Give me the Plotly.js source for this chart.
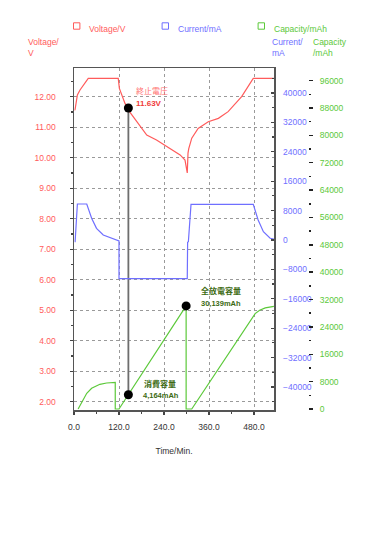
<!DOCTYPE html>
<html>
<head>
<meta charset="utf-8">
<script src="https://cdn.plot.ly/plotly-3.0.1.min.js"></script>
<style>html,body{margin:0;padding:0;background:#fff;}#chart{width:371px;height:536px;}</style>
</head>
<body>
<div id="chart"></div>
<script>
// ---- data ----
const timeV   = [2, 3, 9, 16, 38, 118, 121, 124, 127, 136, 145, 158, 176, 194, 220, 256, 283, 296, 302, 304, 306, 314, 331, 358, 385, 411, 447, 478, 533];
const voltage = [11.55, 11.59, 12.06, 12.22, 12.6, 12.6, 12.27, 12.16, 12.06, 11.78, 11.56, 11.34, 11.02, 10.74, 10.58, 10.31, 10.09, 9.92, 9.5, 10.15, 10.3, 10.64, 10.96, 11.18, 11.29, 11.51, 12.0, 12.6, 12.6];

const timeI   = [2, 3, 9, 34, 47, 60, 78, 105, 120, 120, 302, 303, 305, 312, 478, 491, 505, 523, 533];
const current = [-460, -460, 9800, 9800, 5900, 3180, 1360, 190, -270, -10500, -10500, -600, -460, 9700, 9700, 5440, 2260, 460, 270];

const timeC    = [11, 34, 47, 69, 87, 110, 110, 120, 299, 299, 314, 483, 495, 510, 533];
const capacity = [0, 4590, 6050, 7220, 7600, 7800, 0, 0, 30139, 0, 0, 27900, 28900, 29550, 30000];

// annotated points
const endTime = [145];
const endVoltage = [11.63];
const capTime = [145, 299];
const capValue = [4164, 30139];
const capLabels = ['消費容量', '全放電容量'];
const capValueLabels = ['4,164mAh', '30,139mAh'];

const xTickVals = [0, 120, 240, 360, 480];

// ---- axes ranges ----
const xRange = [0, 533.3];
const vRange = [1.73, 12.94];
const iRange = [-46260, 46800];
const cRange = [-290, 99700];

const RED = '#ff5b5b', BLUE = '#6f6fff', GREEN = '#5cc93a', DKGREEN = '#3c6a12';
const FONT = 'Liberation Sans, Arial, sans-serif';

// capacity value expressed on the voltage axis (for the connector line)
function capToV(c) { return vRange[0] + (c - cRange[0]) / (cRange[1] - cRange[0]) * (vRange[1] - vRange[0]); }

const traces = [
  {x: timeV, y: voltage, type: 'scatter', mode: 'lines', line: {color: RED, width: 1.2}, yaxis: 'y', showlegend: false},
  {x: timeI, y: current, type: 'scatter', mode: 'lines', line: {color: BLUE, width: 1.2}, yaxis: 'y2', showlegend: false},
  {x: timeC, y: capacity, type: 'scatter', mode: 'lines', line: {color: GREEN, width: 1.2}, yaxis: 'y3', showlegend: false},
  {x: [endTime[0], capTime[0]], y: [endVoltage[0], capToV(capValue[0])], type: 'scatter', mode: 'lines', line: {color: '#6e6e6e', width: 1.8}, yaxis: 'y', showlegend: false},
  {x: endTime, y: endVoltage, type: 'scatter', mode: 'markers', marker: {color: '#000', size: 9}, yaxis: 'y', showlegend: false},
  {x: capTime, y: capValue, type: 'scatter', mode: 'markers', marker: {color: '#000', size: 9}, yaxis: 'y3', showlegend: false}
];

// pixel -> paper helpers (paper: x 74..351, y 68..410)
const L = 74, R = 20, T = 68, B = 126, W = 371, H = 536;
const PW = W - L - R, PH = H - T - B;
const px = v => (v - L) / PW;
const py = v => (H - B - v) / PH;

function ann(text, x, y, color, opts) {
  return Object.assign({text: text, xref: 'paper', yref: 'paper', x: px(x), y: py(y), xanchor: 'left', yanchor: 'middle',
    showarrow: false, font: {family: FONT, size: 8.5, color: color}, align: 'left'}, opts || {});
}

const annotations = [
  ann('Voltage/V', 86.5, 29, RED),
  ann('Current/mA', 175.5, 29, BLUE),
  ann('Capacity/mAh', 271.5, 29, GREEN),
  ann('Voltage/<br>V', 26, 47.5, RED),
  ann('Current/<br>mA', 270, 47.5, BLUE),
  ann('Capacity<br>/mAh', 311, 47.5, GREEN),
  ann('終止電圧', 133.5, 90, '#ff7272', {font: {family: 'Noto Sans CJK JP, sans-serif', size: 8, color: '#ff7272'}}),
  ann('<b>' + endVoltage[0].toFixed(2) + 'V</b>', 133.5, 103.5, '#f03a3a', {font: {family: FONT, size: 8, color: '#f03a3a'}}),
  ann('<b>' + capLabels[1] + '</b>', 198.5, 290.5, DKGREEN, {font: {family: 'Noto Sans CJK JP, sans-serif', size: 8, color: DKGREEN}}),
  ann('<b>' + capValueLabels[1] + '</b>', 198.5, 303.5, DKGREEN, {font: {family: FONT, size: 7.5, color: DKGREEN}}),
  ann('<b>' + capLabels[0] + '</b>', 141.5, 383, DKGREEN, {font: {family: 'Noto Sans CJK JP, sans-serif', size: 8, color: DKGREEN}}),
  ann('<b>' + capValueLabels[0] + '</b>', 141, 395.5, DKGREEN, {font: {family: FONT, size: 7.5, color: DKGREEN}})
];

function sq(cx, cy, color) {
  return {type: 'rect', xref: 'paper', yref: 'paper', x0: px(cx - 3.2), x1: px(cx + 3.2), y0: py(cy + 3.2), y1: py(cy - 3.2),
    line: {color: color, width: 1}, fillcolor: 'rgba(0,0,0,0)'};
}
const shapes = [sq(76.7, 26, RED), sq(165.3, 26, BLUE), sq(261.3, 26, GREEN)];

const layout = {
  width: W, height: H,
  margin: {l: L, r: R, t: T, b: B, pad: 0},
  paper_bgcolor: '#fff', plot_bgcolor: '#fff',
  font: {family: FONT, size: 8.5, color: '#333'},
  showlegend: false,
  xaxis: {
    domain: [0, 200 / PW], range: xRange, tickvals: xTickVals, ticktext: xTickVals.map(v => v.toFixed(1)),
    showgrid: true, gridcolor: '#9a9a9a', griddash: 'dot', gridwidth: 1,
    showline: true, linecolor: '#555', linewidth: 1.5, mirror: true,
    ticks: 'outside', ticklen: 3, tickcolor: '#444', tickwidth: 1.2,
    minor: {dtick: 60, tick0: 0, ticks: 'outside', ticklen: 2, tickcolor: '#444', showgrid: false},
    zeroline: false, tickfont: {size: 8.5, color: '#333'}, ticklabelstandoff: 5,
    title: {text: 'Time/Min.', font: {size: 8.5, color: '#333'}, standoff: 17}
  },
  yaxis: {
    range: vRange, dtick: 1, tick0: 0, tickformat: '.2f',
    showgrid: true, gridcolor: '#9a9a9a', griddash: 'dot', gridwidth: 1,
    showline: true, linecolor: '#555', linewidth: 1.5, mirror: true,
    ticks: 'outside', ticklen: 3, tickcolor: '#444', tickwidth: 1.2,
    minor: {dtick: 0.5, tick0: 0, ticks: 'outside', ticklen: 2, tickcolor: '#444', showgrid: false},
    zeroline: false, tickfont: {size: 8.5, color: RED}, ticklabelstandoff: 12
  },
  yaxis2: {
    overlaying: 'y', side: 'right', anchor: 'x', range: iRange, dtick: 8000, tick0: 0, tickformat: 'd',
    showgrid: false, showline: false, zeroline: false,
    ticks: 'inside', ticklen: 3, tickcolor: '#444', tickwidth: 1.2,
    minor: {dtick: 4000, tick0: 0, ticks: 'inside', ticklen: 2, tickcolor: '#444', showgrid: false},
    tickfont: {size: 8.5, color: BLUE}, ticklabelstandoff: 8
  },
  yaxis3: {
    overlaying: 'y', side: 'right', anchor: 'free', position: (308 - L) / PW, range: cRange, dtick: 8000, tick0: 0, tickformat: 'd',
    showgrid: false, showline: false, zeroline: false,
    ticks: 'outside', ticklen: 4, tickcolor: '#222', tickwidth: 1.5,
    minor: {dtick: 4000, tick0: 0, ticks: 'outside', ticklen: 1.5, tickcolor: '#222', showgrid: false},
    tickfont: {size: 8.5, color: GREEN}, ticklabelstandoff: 5
  },
  annotations: annotations,
  shapes: shapes
};

Plotly.newPlot('chart', traces, layout, {displayModeBar: false, staticPlot: true});
</script>
</body>
</html>
